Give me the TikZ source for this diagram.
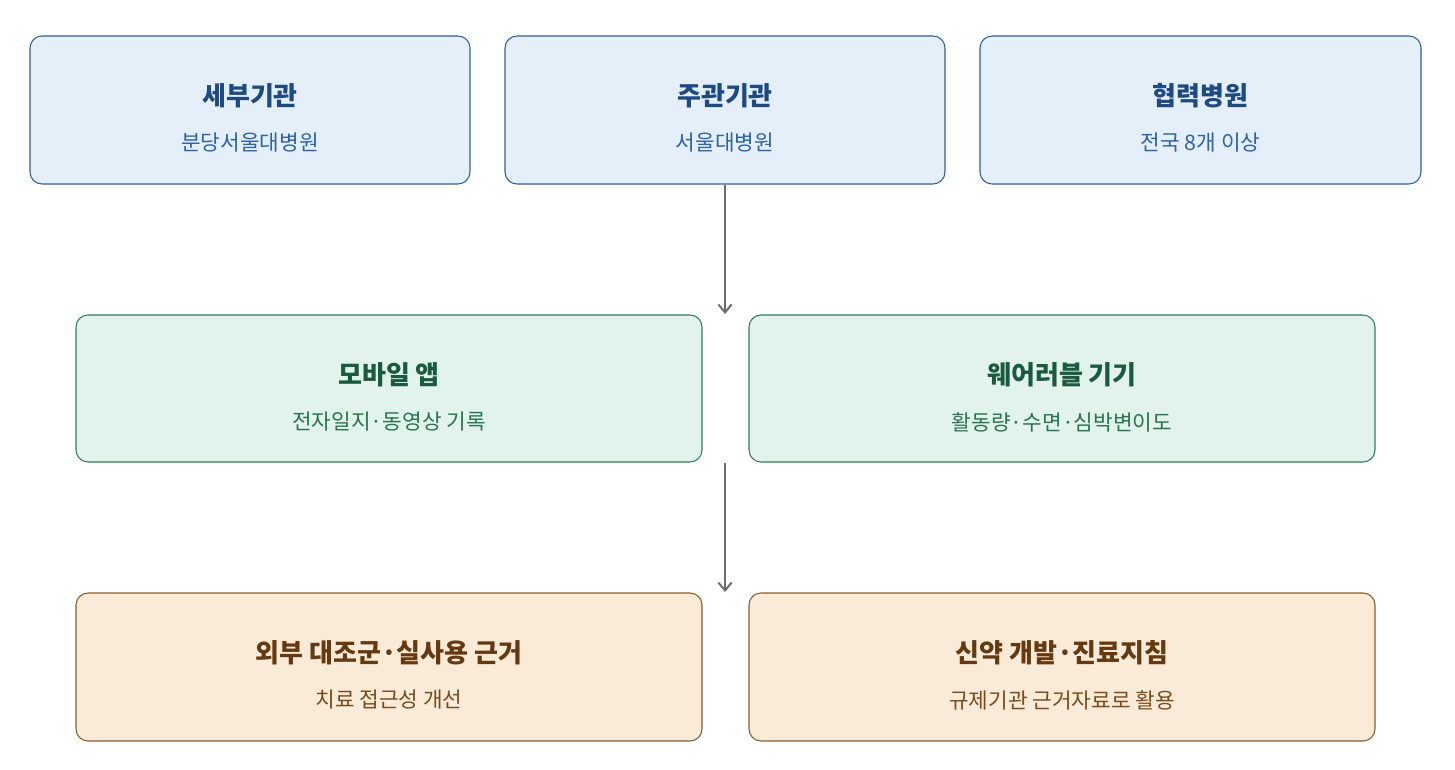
\documentclass[tikz,border=0pt]{standalone}
\usepackage{fontspec}
\setmainfont{Noto Sans CJK KR}
\usetikzlibrary{arrows.meta}
\definecolor{bF}{HTML}{E4EFFA}\definecolor{bD}{HTML}{2F5F9A}\definecolor{bT}{HTML}{1D4A82}\definecolor{bS}{HTML}{2B63A6}
\definecolor{gF}{HTML}{E1F3EC}\definecolor{gD}{HTML}{2E7D5B}\definecolor{gT}{HTML}{1A5A3E}\definecolor{gS}{HTML}{26754F}
\definecolor{oF}{HTML}{FAEBD8}\definecolor{oD}{HTML}{8A5A2B}\definecolor{oT}{HTML}{653A10}\definecolor{oS}{HTML}{7A4A1C}
\begin{document}
\begin{tikzpicture}[x=0.75pt,y=-0.75pt,
 box/.style={draw=#1D,fill=#1F,rounded corners=9pt,line width=0.8pt},
 ttl/.style={font=\bfseries\fontsize{19.5}{22}\selectfont,text=#1T},
 sub/.style={font=\fontsize{16}{19}\selectfont,text=#1S},
 arr/.style={draw=gray!85!black,line width=1.5pt,-{Straight Barb[length=6pt,width=10pt]}}]
\useasboundingbox (0,0) rectangle (1455,770);
\newcommand\mybox[7]{%
 \draw[box=#1] (#2,#3) rectangle (#4,#5);
 \node[ttl=#1] at ({(#2+#4)/2},{#3+60}) {#6};
 \node[sub=#1] at ({(#2+#4)/2},{#3+107}) {#7};}
\mybox{b}{30}{36}{470}{184}{세부기관}{분당서울대병원}
\mybox{b}{505}{36}{945}{184}{주관기관}{서울대병원}
\mybox{b}{980}{36}{1421}{184}{협력병원}{전국 8개 이상}
\mybox{g}{76}{315}{702}{462}{모바일 앱}{전자일지·동영상 기록}
\mybox{g}{749}{315}{1375}{462}{웨어러블 기기}{활동량·수면·심박변이도}
\mybox{o}{76}{593}{702}{741}{외부 대조군·실사용 근거}{치료 접근성 개선}
\mybox{o}{749}{593}{1375}{741}{신약 개발·진료지침}{규제기관 근거자료로 활용}
\coordinate (a1) at (725,185);\coordinate (a2) at (725,314);
\coordinate (a3) at (725,463);\coordinate (a4) at (725,592);
\draw[arr] (a1) -- (a2);
\draw[arr] (a3) -- (a4);
\end{tikzpicture}
\end{document}
